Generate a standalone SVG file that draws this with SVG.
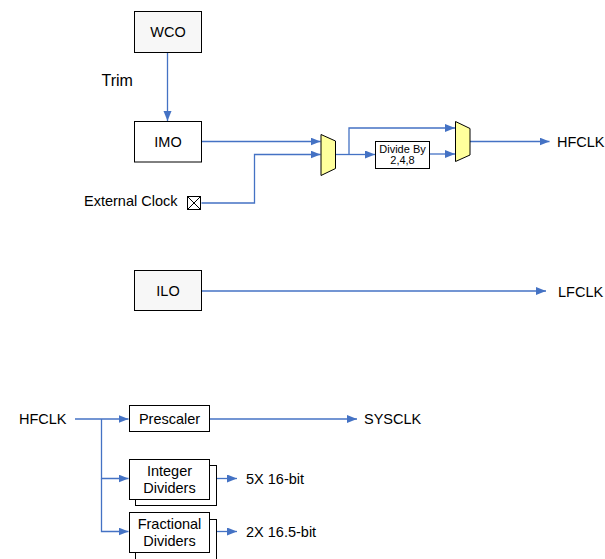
<svg xmlns="http://www.w3.org/2000/svg" width="605" height="559" viewBox="0 0 605 559">
<defs>
<marker id="arr" markerUnits="userSpaceOnUse" markerWidth="11" markerHeight="9" refX="10" refY="4" orient="auto">
<path d="M0,0 L10,4 L0,8 z" fill="#4472c4"/>
</marker>
<style>
.t{font-family:"Liberation Sans",Arial,sans-serif;font-size:14.5px;fill:#000}
.c{text-anchor:middle}
.box{stroke:#000;stroke-width:1}
.g{fill:#f7f7f7}
.w{fill:#fff}
.mux{fill:#ffff9c;stroke:#000;stroke-width:1}
.ln{fill:none;stroke:#4472c4;stroke-width:1.3}
.a{marker-end:url(#arr)}
</style>
</defs>
<rect width="605" height="559" fill="#fff"/>

<g id="connectors">
<line class="ln a" x1="167.5" y1="52.5" x2="167.5" y2="121"/>
<line class="ln a" x1="201.5" y1="141.5" x2="320.5" y2="141.5"/>
<polyline class="ln a" points="201.5,203 254.5,203 254.5,154.5 320.5,154.5"/>
<polyline class="ln" points="335.5,154.5 349,154.5"/>
<polyline class="ln a" points="349,154.5 349,128 455,128"/>
<line class="ln a" x1="349" y1="154.5" x2="375" y2="154.5"/>
<line class="ln a" x1="429.5" y1="154" x2="455" y2="154"/>
<line class="ln a" x1="470" y1="141.5" x2="549.5" y2="141.5"/>
<line class="ln a" x1="201.5" y1="291" x2="546" y2="291"/>
<line class="ln a" x1="75" y1="419" x2="128.5" y2="419"/>
<polyline class="ln a" points="101.5,419 101.5,478.5 128.5,478.5"/>
<polyline class="ln a" points="101.5,478.5 101.5,531.5 128.5,531.5"/>
<line class="ln a" x1="209.5" y1="419" x2="357" y2="419"/>
<line class="ln a" x1="209.5" y1="478.5" x2="237" y2="478.5"/>
<line class="ln a" x1="209.5" y1="531.5" x2="237" y2="531.5"/>
</g>

<g id="wco">
<rect class="box g" x="134.5" y="11.5" width="67" height="41"/>
<text class="t c" x="168" y="37">WCO</text>
</g>
<text id="trim" class="t" x="101.5" y="86" style="font-size:16px">Trim</text>

<g id="imo">
<rect class="box w" x="134.5" y="121.5" width="67" height="40.5"/>
<text class="t c" x="168" y="146.5">IMO</text>
</g>

<g id="extclk">
<text class="t" x="84" y="206" style="font-size:14.5px">External Clock</text>
<rect x="187.5" y="196.5" width="13" height="13" fill="#fff" stroke="#000" stroke-width="1"/>
<path d="M187.5,196.5 L200.5,209.5 M200.5,196.5 L187.5,209.5" stroke="#000" stroke-width="1"/>
</g>

<g id="mux1">
<polygon class="mux" points="321,134.5 335.5,141 335.5,168.5 321,175.5"/>
</g>

<g id="divide">
<rect class="box w" x="375.5" y="141.5" width="54" height="27"/>
<text class="t c" x="402.5" y="152.5" style="font-size:11px">Divide By</text>
<text class="t c" x="402.5" y="164" style="font-size:11px">2,4,8</text>
</g>

<g id="mux2">
<polygon class="mux" points="455.5,121.5 470,128.5 470,155 455.5,161.5"/>
</g>

<text id="hfclk-out" class="t" x="557" y="146.5">HFCLK</text>

<g id="ilo">
<rect class="box g" x="134.5" y="270.5" width="67" height="40"/>
<text class="t c" x="168" y="295.5">ILO</text>
</g>
<text id="lfclk" class="t" x="558" y="297">LFCLK</text>

<text id="hfclk-in" class="t" x="19" y="424">HFCLK</text>

<g id="prescaler">
<rect class="box w" x="129.5" y="405.5" width="80" height="26"/>
<text class="t c" x="169.5" y="423.5">Prescaler</text>
</g>
<text id="sysclk" class="t" x="364" y="424">SYSCLK</text>

<g id="integer">
<rect class="box w" x="135.5" y="465.5" width="81" height="40"/>
<rect class="box w" x="129.5" y="459.5" width="80" height="40"/>
<text class="t c" x="169.5" y="475.5">Integer</text>
<text class="t c" x="169.5" y="492.5">Dividers</text>
</g>
<text id="int-out" class="t" x="246" y="484">5X 16-bit</text>

<g id="fractional">
<rect class="box w" x="135.5" y="519.5" width="81" height="45"/>
<rect class="box w" x="129.5" y="512.5" width="80" height="40"/>
<text class="t c" x="169.5" y="528.5">Fractional</text>
<text class="t c" x="169.5" y="546">Dividers</text>
</g>
<text id="frac-out" class="t" x="246" y="537">2X 16.5-bit</text>
</svg>
